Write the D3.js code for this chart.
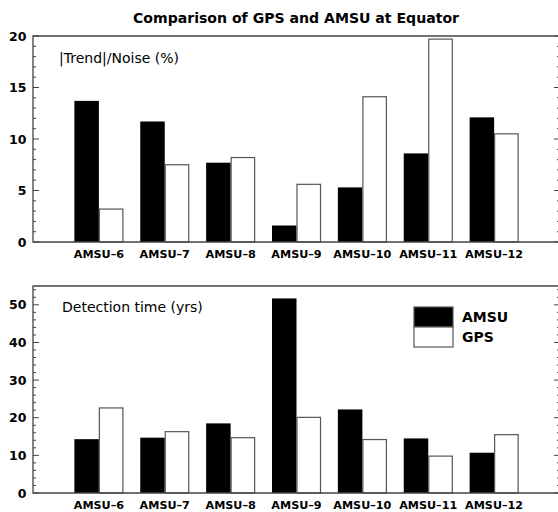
<!DOCTYPE html>
<html>
<head>
<meta charset="utf-8">
<script src="https://cdn.jsdelivr.net/npm/d3@7"></script>
<style>
  body { margin: 0; background: #fff; }
  svg { display: block; font-family: "DejaVu Sans", sans-serif; }
</style>
</head>
<body>
<div id="vis-container"></div>
<script>
// data
var channels = ["AMSU\u20136", "AMSU\u20137", "AMSU\u20138", "AMSU\u20139", "AMSU\u201310", "AMSU\u201311", "AMSU\u201312"];
var trendAmsu = [13.7, 11.7, 7.7, 1.6, 5.3, 8.6, 12.1];
var trendGps = [3.2, 7.5, 8.2, 5.6, 14.1, 19.7, 10.5];
var detectAmsu = [14.3, 14.7, 18.5, 51.7, 22.2, 14.5, 10.7];
var detectGps = [22.6, 16.3, 14.7, 20.1, 14.2, 9.8, 15.5];
var seriesNames = ["AMSU", "GPS"];
var trendTicks = [0, 5, 10, 15, 20];
var detectTicks = [0, 10, 20, 30, 40, 50];

var width = 558, height = 512;
var svg = d3.select("#vis-container").append("svg")
    .attr("width", width).attr("height", height);

var axisColor = "#444";

// shared x scale: channels sit at 1..7 on a 0..8 axis
var xScale = d3.scaleLinear().domain([0, 8]).range([33, 560]);
var barW = 24.5;

svg.append("text")
    .attr("x", 296).attr("y", 23)
    .attr("text-anchor", "middle")
    .attr("font-weight", "bold").attr("font-size", 13.5)
    .attr("textLength", 326).attr("lengthAdjust", "spacingAndGlyphs")
    .text("Comparison of GPS and AMSU at Equator");

function drawPanel(top, bottom, maxY, ticks, minorStep, amsu, gps, label, labelX, labelY) {
    var yScale = d3.scaleLinear().domain([0, maxY]).range([bottom, top]);
    var g = svg.append("g");

    // bars
    channels.forEach(function (c, i) {
        var cx = xScale(i + 1);
        g.append("rect")
            .attr("x", cx - barW).attr("width", barW)
            .attr("y", yScale(amsu[i])).attr("height", yScale(0) - yScale(amsu[i]))
            .attr("fill", "#000");
        g.append("rect")
            .attr("x", cx + 0.5).attr("width", barW - 1)
            .attr("y", yScale(gps[i])).attr("height", yScale(0) - yScale(gps[i]))
            .attr("fill", "#fff").attr("stroke", "#555").attr("stroke-width", 1.2);
    });

    // frame
    g.append("path")
        .attr("d", "M" + xScale(8) + "," + top + "H" + xScale(0) + "V" + bottom + "H" + xScale(8))
        .attr("fill", "none").attr("stroke", axisColor).attr("stroke-width", 1.3);

    // inward ticks, left and right
    var minor = d3.range(0, maxY + 0.001, minorStep);
    minor.forEach(function (v) {
        var isMajor = ticks.indexOf(v) >= 0;
        var len = isMajor ? 6 : 3;
        g.append("line")
            .attr("x1", xScale(0)).attr("x2", xScale(0) + len)
            .attr("y1", yScale(v)).attr("y2", yScale(v))
            .attr("stroke", axisColor);
        g.append("line")
            .attr("x1", xScale(8) - len).attr("x2", xScale(8))
            .attr("y1", yScale(v)).attr("y2", yScale(v))
            .attr("stroke", axisColor);
    });

    ticks.forEach(function (v) {
        g.append("text")
            .attr("x", 26.5).attr("y", yScale(v) + 4.5)
            .attr("text-anchor", "end")
            .attr("font-weight", "bold").attr("font-size", 12.5)
            .text(v);
    });

    channels.forEach(function (c, i) {
        g.append("text")
            .attr("x", xScale(i + 1)).attr("y", bottom + 16)
            .attr("text-anchor", "middle")
            .attr("font-weight", "bold").attr("font-size", 11.2)
            .text(c);
    });

    g.append("text")
        .attr("x", labelX).attr("y", labelY)
        .attr("font-size", 14)
        .text(label);
    return yScale;
}

drawPanel(36, 242, 20, trendTicks, 1, trendAmsu, trendGps, "|Trend|/Noise (%)", 59, 63);
drawPanel(286, 493, 55, detectTicks, 2, detectAmsu, detectGps, "Detection time (yrs)", 62, 312);

// legend
var legend = svg.append("g").attr("transform", "translate(414,307)");
seriesNames.forEach(function (name, i) {
    legend.append("rect")
        .attr("x", 0).attr("y", i * 20)
        .attr("width", 39).attr("height", 20)
        .attr("fill", i === 0 ? "#000" : "#fff")
        .attr("stroke", "#555").attr("stroke-width", 1.2);
    legend.append("text")
        .attr("x", 48).attr("y", i * 20 + 15)
        .attr("font-weight", "bold").attr("font-size", 14)
        .text(name);
});
</script>
</body>
</html>
